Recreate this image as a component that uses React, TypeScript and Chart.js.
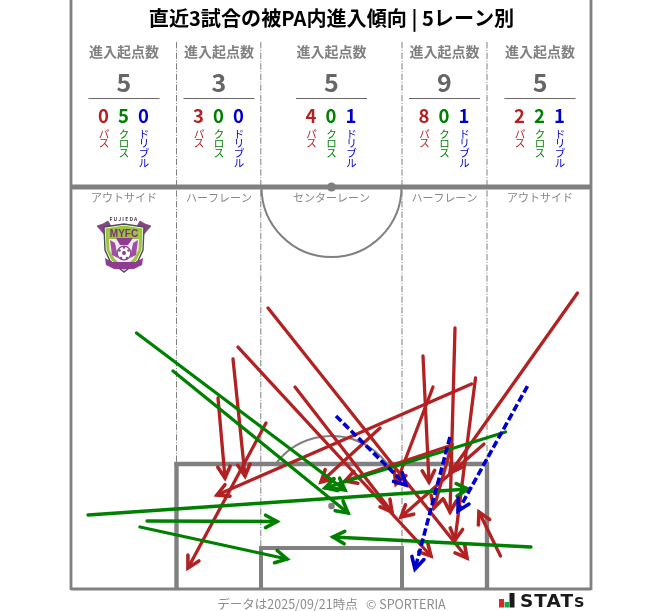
import React, { useEffect, useRef } from "react";
import { Chart, registerables } from "chart.js";

Chart.register(...registerables);

// ---- Data (pitch coordinates; each arrow is [startX, startY, endX, endY]) ----
const TITLE = "直近3試合の被PA内進入傾向 | 5レーン別";
const HEADER_LABEL = "進入起点数";
const LANE_NAMES = ["アウトサイド", "ハーフレーン", "センターレーン", "ハーフレーン", "アウトサイド"];
const LANE_CENTERS = [124, 219, 331.5, 444.5, 540];
const LANE_TOTALS = [5, 3, 5, 9, 5];
const PASS_COUNTS = [0, 3, 4, 8, 2];
const CROSS_COUNTS = [5, 0, 0, 0, 2];
const DRIBBLE_COUNTS = [0, 0, 1, 1, 1];
const KIND_LABELS = ["パス", "クロス", "ドリブル"];
const FOOTER = "データは2025/09/21時点   © SPORTERIA";

const passArrows = [
  [268, 308, 467, 558],
  [238, 347, 431, 556],
  [295, 387, 392, 512],
  [233, 359, 245, 476],
  [218, 398, 225, 478],
  [266, 423, 188, 568],
  [380, 428, 321, 482],
  [471.5, 384, 217, 495],
  [423, 356, 429, 482],
  [455, 328, 450, 512],
  [475.5, 378, 455, 540],
  [433, 387, 396, 484],
  [484, 444, 401, 517],
  [452, 445, 345, 481],
  [452, 444, 434, 508],
  [577.5, 293, 450, 473],
  [500.5, 556, 479, 512],
];
const crossArrows = [
  [136.5, 333, 345, 490],
  [173, 371, 348, 513],
  [88, 515, 468, 489],
  [147, 521, 277, 521.5],
  [140, 527, 287, 559],
  [531, 547, 333, 537],
  [505.5, 432, 325, 488],
];
const dribbleArrows = [
  [336, 416, 406, 485],
  [450, 437, 415, 569],
  [527.5, 386, 458, 511],
];

const GRAY = "#808080";
const RED = "#b22222";
const GREEN = "#008000";
const BLUE = "#0000cd";
const FONT = '"Noto Sans CJK JP", "Noto Sans", sans-serif';

const toDataset = (arrow: number[], color: string, order: number, dash: number[]) => ({
  data: [
    { x: arrow[0], y: arrow[1] },
    { x: arrow[2], y: arrow[3] },
  ],
  borderColor: color,
  borderWidth: dash.length ? 3.6 : 3.3,
  borderDash: dash,
  borderCapStyle: dash.length ? "butt" : "round",
  pointRadius: 0,
  pointHoverRadius: 0,
  tension: 0,
  fill: false,
  order,
  showLine: true,
});

const arrowHeadPlugin = {
  id: "arrowHeads",
  afterDatasetDraw(chart: any, args: any) {
    const pts = args.meta.data;
    if (pts.length < 2) return;
    const { x: ax, y: ay } = pts[0];
    const { x: bx, y: by } = pts[1];
    const angle = Math.atan2(by - ay, bx - ax);
    const len = 13;
    const spread = 0.5;
    const ctx = chart.ctx;
    ctx.save();
    ctx.strokeStyle = chart.data.datasets[args.index].borderColor;
    ctx.lineWidth = 3.6;
    ctx.lineCap = "round";
    ctx.lineJoin = "miter";
    ctx.beginPath();
    ctx.moveTo(bx - len * Math.cos(angle - spread), by - len * Math.sin(angle - spread));
    ctx.lineTo(bx, by);
    ctx.lineTo(bx - len * Math.cos(angle + spread), by - len * Math.sin(angle + spread));
    ctx.stroke();
    ctx.restore();
  },
};

function drawLogo(ctx: CanvasRenderingContext2D, X: (v: number) => number, Y: (v: number) => number) {
  const purple = "#8e3d8f";
  const poly = (pts: number[][], fill: string, stroke?: string, w = 1) => {
    ctx.beginPath();
    pts.forEach((p, i) => (i ? ctx.lineTo(X(p[0]), Y(p[1])) : ctx.moveTo(X(p[0]), Y(p[1]))));
    ctx.closePath();
    ctx.fillStyle = fill;
    ctx.fill();
    if (stroke) {
      ctx.strokeStyle = stroke;
      ctx.lineWidth = w;
      ctx.stroke();
    }
  };
  ctx.save();
  // wings
  poly([[97, 226], [103, 224], [108, 221], [112, 228], [108, 243], [104, 234]], purple, "#6b4a70", 0.8);
  poly([[151, 226], [145, 224], [140, 221], [136, 228], [140, 243], [144, 234]], purple, "#6b4a70", 0.8);
  // shield layers
  const shield = (o: number) => [
    [104 + o, 227 + o],
    [124, 224 + o],
    [144 - o, 227 + o],
    [143 - o, 250],
    [138 - o, 261 - o * 0.5],
    [124, 272 - o],
    [110 + o, 261 - o * 0.5],
    [105 + o, 250],
  ];
  poly(shield(0), "#ffffff", "#4d4d4d", 1.4);
  poly(shield(1.5), "#9ac43c");
  poly(shield(4.5), "#f4eef4");
  // top band
  poly([[108, 229], [124, 226.5], [140, 229], [139, 239], [109, 239]], "#9ac43c");
  // leaves
  poly([[110, 240], [115, 243], [118, 258], [112, 255]], "#a050a2");
  poly([[138, 240], [133, 243], [130, 258], [136, 255]], "#a050a2");
  // bowl with bird
  poly([[116, 238], [133, 238], [128, 245], [120, 245]], purple);
  // ball
  ctx.beginPath();
  ctx.arc(X(124), Y(253), 6.8, 0, Math.PI * 2);
  ctx.fillStyle = "#ffffff";
  ctx.fill();
  ctx.strokeStyle = purple;
  ctx.lineWidth = 1.2;
  ctx.stroke();
  [[124, 253, 2], [119.5, 250.5, 1.3], [128.5, 250.5, 1.3], [121, 258, 1.3], [127, 258, 1.3], [124, 247.5, 1.2]].forEach(
    ([cx, cy, r]) => {
      ctx.beginPath();
      ctx.arc(X(cx), Y(cy), r, 0, Math.PI * 2);
      ctx.fillStyle = purple;
      ctx.fill();
    },
  );
  // ribbon
  poly([[105, 258], [112, 262], [136, 262], [143, 258], [142, 265], [134, 269], [114, 269], [106, 265]], purple);
  ctx.fillStyle = "#4a3a4c";
  ctx.textAlign = "center";
  ctx.textBaseline = "middle";
  ctx.font = `bold 5px ${FONT}`;
  (ctx as any).letterSpacing = "1.2px";
  ctx.fillText("FUJIEDA", X(124), Y(219.5));
  (ctx as any).letterSpacing = "0px";
  ctx.fillStyle = "#7a2f7c";
  ctx.font = `bold 10px "Liberation Sans", sans-serif`;
  ctx.fillText("MYFC", X(124), Y(234));
  ctx.restore();
}

const pitchPlugin = {
  id: "pitch",
  beforeDatasetsDraw(chart: any) {
    const { ctx, scales } = chart;
    const X = (v: number) => scales.x.getPixelForValue(v);
    const Y = (v: number) => scales.y.getPixelForValue(v);
    const seg = (x0: number, y0: number, x1: number, y1: number, w: number, color = GRAY, dash: number[] = []) => {
      ctx.beginPath();
      ctx.setLineDash(dash);
      ctx.strokeStyle = color;
      ctx.lineWidth = w;
      ctx.lineCap = "butt";
      ctx.moveTo(X(x0), Y(y0));
      ctx.lineTo(X(x1), Y(y1));
      ctx.stroke();
      ctx.setLineDash([]);
    };
    const arc = (cx: number, cy: number, r: number, a: number, b: number) => {
      ctx.beginPath();
      ctx.strokeStyle = GRAY;
      ctx.lineWidth = 2;
      ctx.arc(X(cx), Y(cy), r, a, b);
      ctx.stroke();
    };
    const dot = (cx: number, cy: number, r: number) => {
      ctx.beginPath();
      ctx.fillStyle = GRAY;
      ctx.arc(X(cx), Y(cy), r, 0, Math.PI * 2);
      ctx.fill();
    };
    const text = (s: string, x: number, y: number, font: string, color: string) => {
      ctx.font = font;
      ctx.fillStyle = color;
      ctx.textAlign = "center";
      ctx.textBaseline = "middle";
      ctx.fillText(s, X(x), Y(y));
    };
    ctx.save();
    const dashDot = [6.4, 1.6, 1, 1.6];
    seg(176.5, 42, 176.5, 464, 1, GRAY, dashDot);
    seg(260.8, 42, 260.8, 548, 1, GRAY, dashDot);
    seg(402, 42, 402, 548, 1, GRAY, dashDot);
    seg(487, 42, 487, 464, 1, GRAY, dashDot);

    seg(71, 0, 71, 590, 2.8);
    seg(591, 0, 591, 590, 2.8);
    seg(71, 589, 591, 589, 2.8);
    seg(70, 187, 592, 187, 5);

    // penalty box & goal area
    seg(174.5, 464, 489, 464, 4.4);
    seg(176.5, 462, 176.5, 589, 4.4);
    seg(487, 462, 487, 589, 4.4);
    seg(259, 548, 404, 548, 4);
    seg(261, 546, 261, 589, 4);
    seg(402, 546, 402, 589, 4);

    // centre circle & penalty arc
    arc(331.5, 187, 70, 0, Math.PI);
    const arcAngle = Math.asin(42 / 70);
    arc(331.5, 506, 70, Math.PI + arcAngle, 2 * Math.PI - arcAngle);
    dot(331.5, 187, 4.5);
    dot(331.5, 506, 3.3);

    // header
    LANE_CENTERS.forEach((c, i) => {
      text(HEADER_LABEL, c, 52, `bold 14px ${FONT}`, "#808080");
      text(String(LANE_TOTALS[i]), c, 82, `bold 25px ${FONT}`, "#666666");
      seg(c - 35.5, 98.5, c + 35.5, 98.5, 1, "#666666");
      const counts = [PASS_COUNTS[i], CROSS_COUNTS[i], DRIBBLE_COUNTS[i]];
      const colors = [RED, GREEN, BLUE];
      counts.forEach((n, k) => {
        const x = c + (k - 1) * 20 - 0.5;
        text(String(n), x, 116, `bold 18.5px ${FONT}`, colors[k]);
        Array.from(KIND_LABELS[k]).forEach((ch, j) => {
          text(ch as string, x + 0.5, 133.5 + j * 9.9, `10.5px ${FONT}`, colors[k]);
        });
      });
      text(LANE_NAMES[i], c, 198, `11px ${FONT}`, "#888888");
    });

    drawLogo(ctx, X, Y);

    // footer
    text(FOOTER, 331.5, 604, `12.5px ${FONT}`, "#8c8c8c");

    // STATS mark
    const bar = (x0: number, x1: number, y0: number, color: string) => {
      ctx.fillStyle = color;
      ctx.fillRect(X(x0), Y(y0), x1 - x0, 607.5 - y0);
    };
    bar(499, 504, 599, "#d9262c");
    bar(504.5, 509, 602, "#1fa34a");
    bar(509.5, 514.5, 593, "#1a1a1a");
    ctx.font = `bold 18.5px "DejaVu Sans", sans-serif`;
    ctx.fillStyle = "#1a1a1a";
    ctx.textAlign = "left";
    ctx.textBaseline = "alphabetic";
    (ctx as any).letterSpacing = "1px";
    ctx.fillText("STAT", X(520), Y(607));
    const w = ctx.measureText("STAT").width;
    ctx.font = `bold 14.5px "DejaVu Sans", sans-serif`;
    ctx.fillText("S", X(520) + w, Y(607));
    (ctx as any).letterSpacing = "0px";
    ctx.restore();
  },
};

export default function App() {
  const ref = useRef<HTMLCanvasElement | null>(null);
  useEffect(() => {
    if (!ref.current) return;
    const chart = new Chart(ref.current, {
      type: "scatter",
      data: {
        datasets: [
          ...passArrows.map((a) => toDataset(a, RED, 3, [])),
          ...crossArrows.map((a) => toDataset(a, GREEN, 2, [])),
          ...dribbleArrows.map((a) => toDataset(a, BLUE, 1, [7.5, 3])),
        ] as any,
      },
      options: {
        responsive: false,
        animation: false,
        layout: { padding: 0 },
        events: [],
        plugins: {
          legend: { display: false },
          tooltip: { enabled: false },
          title: {
            display: true,
            text: TITLE,
            color: "#000000",
            font: { family: FONT, size: 20.1, weight: "bold", lineHeight: 1.2 },
            padding: { top: 6, bottom: 6 },
          },
        },
        scales: {
          x: { type: "linear", min: 0, max: 663, display: false },
          y: { type: "linear", min: 36.1, max: 611, reverse: true, display: false },
        },
      } as any,
      plugins: [pitchPlugin, arrowHeadPlugin],
    });
    return () => chart.destroy();
  }, []);
  return (
    <canvas
      ref={ref}
      width={663}
      height={611}
      style={{ position: "absolute", left: 0, top: 0, width: 663, height: 611, display: "block" }}
    />
  );
}
